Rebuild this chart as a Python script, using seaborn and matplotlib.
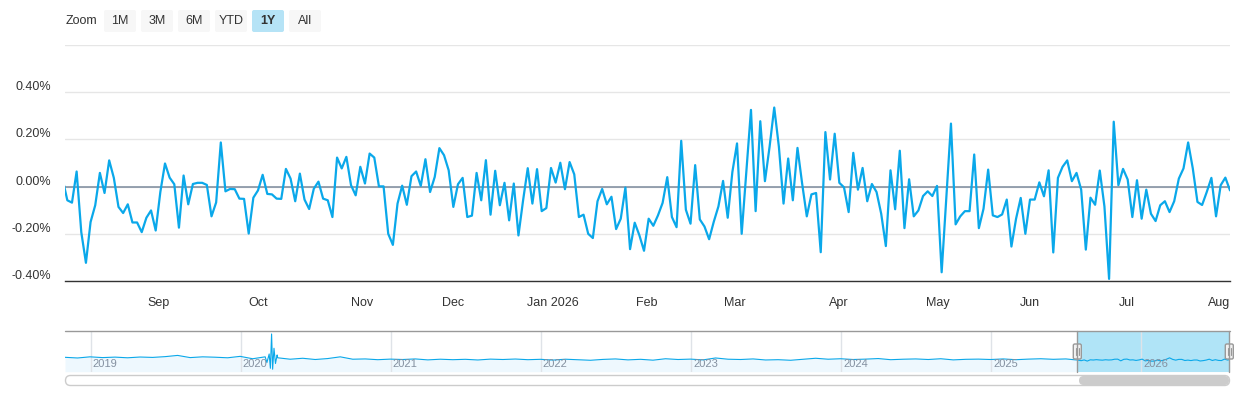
import numpy as np
import pandas as pd
import seaborn as sns
import matplotlib.pyplot as plt
from matplotlib import transforms
from matplotlib.patches import FancyBboxPatch

sns.set_style('white')
plt.rcParams['font.family'] = ['Liberation Sans', 'DejaVu Sans']

# daily change (%), one value per trading day
aug_sep_2025 = [0.031, -0.058, -0.068, 0.064, -0.193, -0.323, -0.150, -0.079, 0.058, -0.027,
                0.111, 0.037, -0.086, -0.112, -0.075, -0.152, -0.152, -0.193, -0.132, -0.101,
                -0.186, -0.023, 0.098, 0.038, 0.010, -0.174, 0.047, -0.075, 0.011, 0.016,
                0.016, 0.007, -0.126, -0.067, 0.187, -0.020, -0.010, -0.011, -0.051, -0.052,
                -0.199, -0.047]
oct_nov_2025 = [-0.016, 0.050, -0.031, -0.033, -0.051, -0.052, 0.075, 0.034, -0.062, 0.055,
                -0.055, -0.095, -0.009, 0.021, -0.051, -0.058, -0.129, 0.123, 0.077, 0.126,
                0.006, -0.037, 0.084, 0.013, 0.140, 0.123, 0.001, 0.001, -0.200, -0.247,
                -0.072, 0.004, -0.077, 0.044, 0.064, 0.003, 0.116, -0.023, 0.041, 0.163,
                0.133, 0.069]
dec_jan = [-0.086, 0.010, 0.037, -0.129, -0.123, 0.058, -0.058, 0.112, -0.119, 0.067,
           -0.079, 0.016, -0.143, 0.013, -0.207, -0.058, 0.078, -0.072, 0.074, -0.104,
           -0.091, 0.079, 0.017, 0.101, -0.011, 0.104, 0.052, -0.129, -0.119, -0.200,
           -0.218, -0.062, -0.010, -0.075, -0.043, -0.180, -0.136, -0.004, -0.265, -0.153,
           -0.206, -0.272]
feb_mar_2026 = [-0.136, -0.166, -0.122, -0.069, 0.040, -0.129, -0.172, 0.194, -0.098, -0.157,
                0.091, -0.139, -0.169, -0.223, -0.149, -0.084, 0.024, -0.132, 0.062, 0.183,
                -0.200, 0.062, 0.325, -0.104, 0.277, 0.023, 0.169, 0.335, 0.169, -0.072,
                0.119, -0.058, 0.164, 0.013, -0.126, -0.033, -0.027, -0.278, 0.231, 0.030,
                0.224]
apr_may_2026 = [0.016, -0.003, -0.108, 0.143, -0.013, 0.079, -0.062, 0.011, -0.023, -0.115,
                -0.252, 0.069, -0.096, 0.152, -0.176, 0.031, -0.126, -0.101, -0.040, -0.020,
                -0.040, 0.003, -0.363, -0.048, 0.267, -0.160, -0.126, -0.104, -0.104, 0.136,
                -0.176, -0.094, 0.072, -0.122, -0.129, -0.118, -0.055, -0.254, -0.136, -0.048,
                -0.200]
jun_aug_2026 = [-0.055, -0.055, 0.018, -0.041, 0.069, -0.279, 0.037, 0.084, 0.111, 0.023,
                0.058, -0.013, -0.267, -0.047, -0.077, 0.068, -0.084, -0.391, 0.275, 0.006,
                0.075, 0.030, -0.129, 0.027, -0.136, -0.013, -0.115, -0.146, -0.079, -0.062,
                -0.108, -0.062, 0.034, 0.077, 0.187, 0.077, -0.065, -0.078, -0.023, 0.037,
                -0.126, 0.006, 0.038, -0.016]

month_ticks = [20.7, 42.0, 64.3, 83.9, 105.4, 125.6, 144.5, 166.9, 188.2, 207.9, 228.8, 250.3]
month_labels = ['Sep', 'Oct', 'Nov', 'Dec', 'Jan 2026', 'Feb', 'Mar', 'Apr', 'May', 'Jun', 'Jul', 'Aug']
y_ticks = [-0.4, -0.2, 0.0, 0.2, 0.4, 0.6]
y_labels = ['-0.40%', '-0.20%', '0.00%', '0.20%', '0.40%', '']

# navigator history (monthly, Nov 2018 - Jul 2025) plus the March 2020 spike
nav_start = 2018.83
nav_monthly = [0.25, 0.18,
               0.30, 0.22, 0.27, 0.20, 0.28, 0.24, 0.32, 0.45, 0.22, 0.30, 0.26, 0.20,
               0.35, 0.10, 0.30, 0.20, 0.05, 0.15, 0.02, 0.12, 0.30, 0.05, 0.08, 0.00,
               0.06, 0.02, 0.08, -0.02, 0.05, 0.00, 0.04, -0.03, 0.06, 0.02, 0.07, 0.00,
               0.04, -0.04, 0.05, 0.00, -0.06, 0.03, 0.08, -0.02, 0.04, -0.05, 0.10, 0.02,
               0.06, -0.02, 0.18, 0.05, 0.02, 0.08, -0.03, 0.00, -0.06, 0.04, 0.15, 0.05,
               0.10, 0.02, 0.06, 0.12, 0.00, 0.05, 0.08, 0.02, 0.10, -0.02, 0.04, 0.06,
               0.02, 0.08, 0.00, 0.06, 0.10, 0.04, 0.08]
spike_t = [2020.175, 2020.19, 2020.198, 2020.206, 2020.213, 2020.222, 2020.232, 2020.243]
spike_v = [-0.3, 0.6, -0.9, 2.7, -1.0, 1.2, -0.4, 0.5]
years = [2019, 2020, 2021, 2022, 2023, 2024, 2025, 2026]
sel_start, sel_end = 2025.57, 2026.59

daily = aug_sep_2025 + oct_nov_2025 + dec_jan + feb_mar_2026 + apr_may_2026 + jun_aug_2026
df = pd.DataFrame({'pos': np.arange(len(daily)), 'change': daily})

# navigator groups the last year into weekly means, like the stock chart does
weekly = df.groupby(df['pos'] // 5).agg(pos=('pos', 'mean'), change=('change', 'mean'))
hist = pd.DataFrame({'t': nav_start + np.arange(len(nav_monthly)) / 12, 'v': nav_monthly})
spike = pd.DataFrame({'t': spike_t, 'v': spike_v})
recent = pd.DataFrame({'t': sel_start + weekly['pos'] * (sel_end - sel_start) / (len(daily) - 1),
                       'v': weekly['change']})
nav_df = pd.concat([hist, spike, recent]).sort_values('t').reset_index(drop=True)

BLUE = '#0aa8ea'
W, H = 1240, 400
fig = plt.figure(figsize=(12.4, 4), dpi=100)


def box(x0, y0, x1, y1):
    return [x0 / W, 1 - y1 / H, (x1 - x0) / W, (y1 - y0) / H]


# main chart
ax = fig.add_axes(box(65, 45, 1230, 281))
ax.grid(axis='y', color='#e6e6e6', lw=1, zorder=0)
ax.axhline(0, color='#7b8a9c', lw=1.1, zorder=2)
sns.lineplot(data=df, x='pos', y='change', ax=ax, color=BLUE, linewidth=1.6, zorder=3)
ax.set_xlim(0.5, 251)
ax.set_ylim(-0.4, 0.6)
ax.set_yticks(y_ticks)
ax.set_xticks(month_ticks)
ax.set_xticklabels(month_labels)
ax.set_xlabel('')
ax.set_ylabel('')
for side in ['top', 'right', 'left']:
    ax.spines[side].set_visible(False)
ax.spines['bottom'].set_color('#333333')
ax.spines['bottom'].set_linewidth(1)
ax.tick_params(axis='x', length=4, width=1, color='#333333', labelsize=9,
               labelcolor='#333333', pad=7.5)
ax.tick_params(axis='y', length=0, labelleft=False)
last = ax.get_xticklabels()[-1]
last.set_horizontalalignment('right')
last.set_transform(last.get_transform() + transforms.Affine2D().translate(3, 0))
ytrans = transforms.offset_copy(ax.get_yaxis_transform(), fig=fig, x=-14, y=2, units='dots')
for v, lab in zip(y_ticks, y_labels):
    if lab:
        ax.text(0, v, lab, transform=ytrans, ha='right', va='baseline',
                fontsize=9, color='#333333')

# navigator
nav = fig.add_axes(box(65, 331.3, 1230, 371.7))
nav.set_xlim(nav_start, sel_end)
nav.set_ylim(-1.26, 2.98)
nav.fill_between(nav_df['t'], nav_df['v'], -1.26, color='#eef8fe', lw=0, zorder=1)
nav.axvspan(sel_start, sel_end, color='#b0e4f7', lw=0, zorder=2)
for yr in years:
    nav.axvline(yr, color='#dfe3e8', lw=1, zorder=3)
sns.lineplot(data=nav_df, x='t', y='v', ax=nav, color=BLUE, linewidth=0.8, zorder=4)
ytr = transforms.offset_copy(nav.get_xaxis_transform(), fig=fig, x=2, y=0, units='dots')
for yr in years:
    nav.text(yr, 0.18, str(yr), transform=ytr, ha='left', va='center',
             fontsize=8, color='#8490a0', zorder=5)
nav.set_xlabel('')
nav.set_ylabel('')
nav.set_xticks([])
nav.set_yticks([])
for side in nav.spines:
    nav.spines[side].set_visible(False)
nav.patch.set_alpha(0)

# overlay in pixel coordinates: range selector, navigator outline, handles, scrollbar
deco = fig.add_axes([0, 0, 1, 1], zorder=10)
deco.set_xlim(0, W)
deco.set_ylim(H, 0)
deco.axis('off')
deco.patch.set_alpha(0)

deco.text(66, 21.5, 'Zoom', ha='left', va='center', fontsize=9, color='#333333')
buttons = ['1M', '3M', '6M', 'YTD', '1Y', 'All']
for k, lab in enumerate(buttons):
    x0 = 104 + k * 37
    sel = lab == '1Y'
    deco.add_patch(FancyBboxPatch((x0, 10), 32, 22, boxstyle='round,pad=0,rounding_size=2',
                                  fc='#b5e3f6' if sel else '#f7f7f7', ec='none'))
    deco.text(x0 + 16, 21.5, lab, ha='center', va='center', fontsize=9, color='#333333',
              fontweight='bold' if sel else 'normal')

deco.plot([65, 1230], [331.3, 331.3], color='#999999', lw=1)
for hx in [1077.3, 1229.3]:
    deco.plot([hx, hx], [331.3, 371.7], color='#999999', lw=1)
    deco.add_patch(FancyBboxPatch((hx - 4, 344), 8, 15, boxstyle='round,pad=0,rounding_size=1.5',
                                  fc='#f2f2f2', ec='#999999', lw=1))
    for dx in [-1.3, 1.3]:
        deco.plot([hx + dx, hx + dx], [348, 355], color='#999999', lw=0.8)

deco.add_patch(FancyBboxPatch((65.5, 375.5), 1164, 10, boxstyle='round,pad=0,rounding_size=5',
                              fc='white', ec='#cccccc', lw=1))
deco.add_patch(FancyBboxPatch((1079, 376), 150, 9, boxstyle='round,pad=0,rounding_size=4.5',
                              fc='#cccccc', ec='none'))

fig.savefig('out.png', dpi=100)
